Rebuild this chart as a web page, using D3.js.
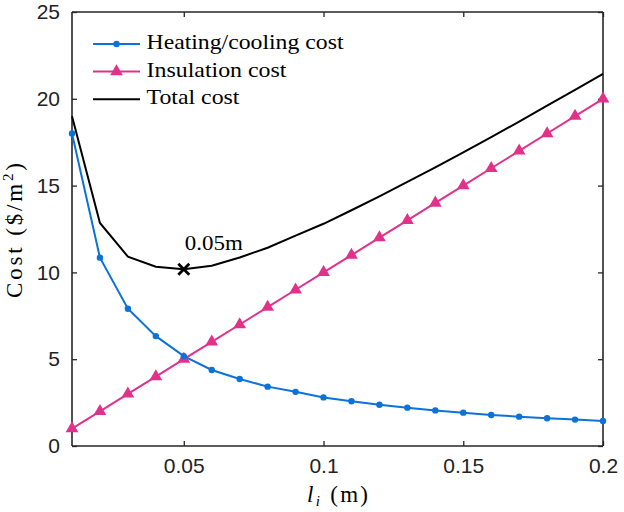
<!DOCTYPE html>
<html><head><meta charset="utf-8">
<script src="https://cdn.jsdelivr.net/npm/d3@7"></script>
<style>body{margin:0;background:#fff}svg{display:block}</style>
</head><body>
<svg id="c" width="624" height="512"></svg>
<script>
const thickness = [0.01,0.02,0.03,0.04,0.05,0.06,0.07,0.08,0.09,0.10,0.11,0.12,0.13,0.14,0.15,0.16,0.17,0.18,0.19,0.20];
const heatingCost = [18.0,10.85,7.91,6.33,5.18,4.38,3.86,3.42,3.12,2.80,2.58,2.38,2.21,2.05,1.92,1.79,1.69,1.60,1.52,1.44];
const insulationCost = [1,2,3,4,5,6,7,8,9,10,11,12,13,14,15,16,17,18,19,20];
const totalCost = [19.0,12.85,10.91,10.33,10.18,10.38,10.86,11.42,12.12,12.80,13.58,14.38,15.21,16.05,16.92,17.79,18.69,19.60,20.52,21.44];
const xTicks = [0.05,0.1,0.15,0.2];
const yTicks = [0,5,10,15,20,25];
const legendLabels = ["Heating/cooling cost","Insulation cost","Total cost"];
const optimum = {x:0.05, y:10.18, label:"0.05m"};

const svg = d3.select("#c");
const L=72,R=603,T=12,B=446;
const x = d3.scaleLinear().domain([0.01,0.2]).range([L,R]);
const y = d3.scaleLinear().domain([0,25]).range([B,T]);
const axisColor="#262626";
const tickFont="'Liberation Sans', Arial, sans-serif";
const serif="'Liberation Serif','Times New Roman',serif";
const blue="#0b72d9", pink="#e2318b";

// axes
const gx = svg.append("g").attr("transform",`translate(0,${B})`)
  .call(d3.axisBottom(x).tickValues(xTicks).tickSize(-5).tickPadding(12).tickFormat(d=>d3.format("")(d)));
const gxt = svg.append("g").attr("transform",`translate(0,${T})`)
  .call(d3.axisTop(x).tickValues(xTicks).tickSize(-5).tickFormat(""));
const gy = svg.append("g").attr("transform",`translate(${L},0)`)
  .call(d3.axisLeft(y).tickValues(yTicks).tickSize(-5).tickPadding(12));
const gyr = svg.append("g").attr("transform",`translate(${R},0)`)
  .call(d3.axisRight(y).tickValues(yTicks).tickSize(-5).tickFormat(""));
[gx,gxt,gy,gyr].forEach(g=>{
  g.select(".domain").attr("stroke",axisColor).attr("stroke-width",1.6);
  g.selectAll(".tick line").attr("stroke",axisColor).attr("stroke-width",1.3);
  g.selectAll(".tick text").attr("fill","#222").style("font-family",tickFont).style("font-size","21px");
});
gx.selectAll(".domain").attr("d",`M${L},0H${R}`);
gxt.selectAll(".domain").attr("d",`M${L},0H${R}`);
gy.selectAll(".domain").attr("d",`M0,${B}V${T}`);
gyr.selectAll(".domain").attr("d",`M0,${B}V${T}`);

const line = d3.line().x((d,i)=>x(thickness[i])).y(d=>y(d));

svg.append("path").datum(totalCost).attr("d",line).attr("fill","none").attr("stroke","#000").attr("stroke-width",2);
svg.append("path").datum(insulationCost).attr("d",line).attr("fill","none").attr("stroke",pink).attr("stroke-width",2);
svg.append("path").datum(heatingCost).attr("d",line).attr("fill","none").attr("stroke",blue).attr("stroke-width",2);

const tri = d3.symbol().type(d3.symbolTriangle).size(70);
svg.append("g").selectAll("path").data(insulationCost).join("path")
  .attr("d",tri).attr("transform",(d,i)=>`translate(${x(thickness[i])},${y(d)})`).attr("fill",pink);
svg.append("g").selectAll("circle").data(heatingCost).join("circle")
  .attr("cx",(d,i)=>x(thickness[i])).attr("cy",d=>y(d)).attr("r",3.2).attr("fill",blue);

// optimum marker
const ox=x(optimum.x), oy=y(optimum.y), s=5.5;
svg.append("path").attr("d",`M${ox-s},${oy-s}L${ox+s},${oy+s}M${ox-s},${oy+s}L${ox+s},${oy-s}`)
  .attr("stroke","#000").attr("stroke-width",2.8);
svg.append("text").attr("x",ox+1).attr("y",oy-19).text(optimum.label)
  .attr("textLength",58).attr("lengthAdjust","spacingAndGlyphs")
  .style("font-family",serif).style("font-size","21px").attr("fill","#000");

// legend
const colors=[blue,pink,"#000"];
const legendWidths=[197,140,93];
const lg = svg.append("g");
legendLabels.forEach((t,i)=>{
  const ly = 44 + i*27.6;
  lg.append("line").attr("x1",93).attr("x2",140).attr("y1",ly).attr("y2",ly).attr("stroke",colors[i]).attr("stroke-width",2);
  if(i===0) lg.append("circle").attr("cx",116.5).attr("cy",ly).attr("r",3.2).attr("fill",blue);
  if(i===1) lg.append("path").attr("d",tri).attr("transform",`translate(116.5,${ly})`).attr("fill",pink);
  lg.append("text").attr("x",146.5).attr("y",ly+5).text(t)
    .attr("textLength",legendWidths[i]).attr("lengthAdjust","spacingAndGlyphs")
    .style("font-family",serif).style("font-size","21px").attr("fill","#000");
});

// axis labels
const yl = svg.append("text").attr("transform",`translate(22,230.5) rotate(-90)`).attr("text-anchor","middle")
  .attr("textLength",135).attr("lengthAdjust","spacing")
  .style("font-family",serif).style("font-size","23px");
yl.append("tspan").text("Cost ($/m");
yl.append("tspan").text("2").attr("dy",-9).style("font-size","15px");
yl.append("tspan").text(")").attr("dy",9);

const xl = svg.append("text").attr("x",337.5).attr("y",502).attr("text-anchor","middle")
  .attr("textLength",61).attr("lengthAdjust","spacing")
  .style("font-family",serif).style("font-size","23px");
xl.append("tspan").text("l").style("font-style","italic");
xl.append("tspan").text("i").style("font-style","italic").style("font-size","15px").attr("dy",4);
xl.append("tspan").text(" (m)").attr("dy",-4);
</script>
</body></html>
